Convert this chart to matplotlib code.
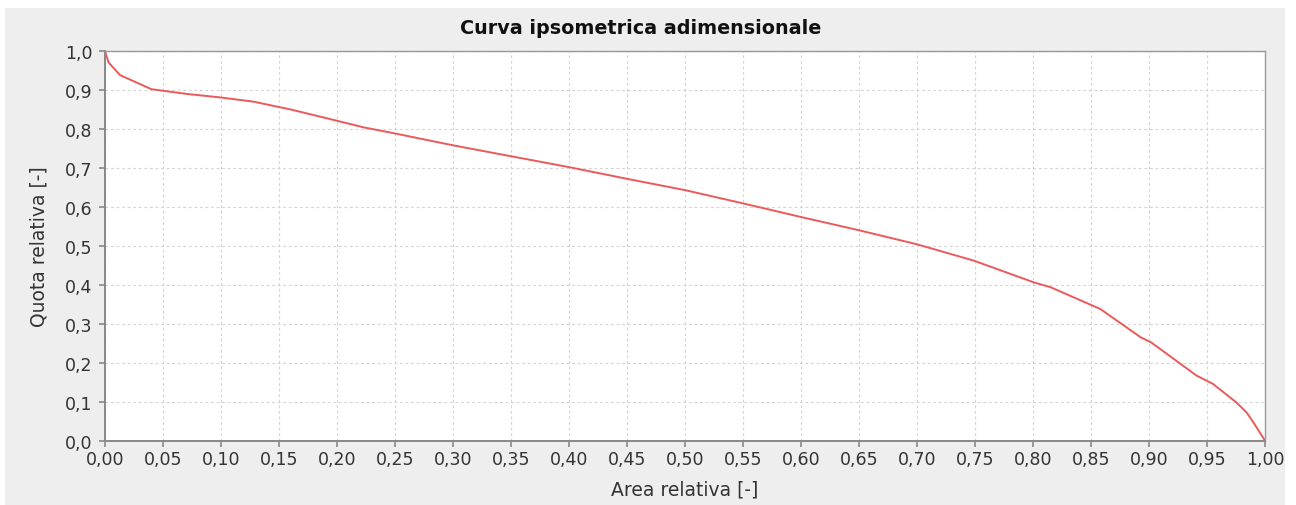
import numpy as np
import matplotlib.pyplot as plt
from matplotlib.patches import Rectangle
from matplotlib.ticker import MultipleLocator, FuncFormatter

# Curva ipsometrica
area_rel = [0.0, 0.003, 0.013, 0.040, 0.070, 0.099, 0.128, 0.160, 0.200, 0.223,
            0.249, 0.300, 0.332, 0.400, 0.450, 0.500, 0.550, 0.600, 0.650, 0.700,
            0.714, 0.749, 0.801, 0.815, 0.858, 0.893, 0.902, 0.941, 0.955, 0.975,
            0.984, 0.990, 1.0]
quota_rel = [1.0, 0.971, 0.938, 0.902, 0.890, 0.881, 0.870, 0.850, 0.821, 0.804,
             0.789, 0.758, 0.740, 0.702, 0.672, 0.643, 0.609, 0.574, 0.540, 0.504,
             0.492, 0.462, 0.406, 0.394, 0.338, 0.265, 0.252, 0.167, 0.146, 0.099,
             0.073, 0.047, 0.0]

W, H = 1296, 506
fig = plt.figure(figsize=(W / 100, H / 100), dpi=100)
fig.patch.set_facecolor('white')
fig.patches.append(Rectangle((5 / W, 0), 1280 / W, 497 / H, transform=fig.transFigure,
                             facecolor='#eeeeee', edgecolor='none', zorder=-10))

ax = fig.add_axes([105 / W, (H - 441.7) / H, 1160 / W, 389.7 / H])
ax.set_facecolor('white')
ax.plot(area_rel, quota_rel, color='#ea5a5a', linewidth=1.4)

ax.set_xlim(0, 1)
ax.set_ylim(0, 1)
ax.xaxis.set_major_locator(MultipleLocator(0.05))
ax.yaxis.set_major_locator(MultipleLocator(0.1))
ax.xaxis.set_major_formatter(FuncFormatter(lambda v, p: f'{v:.2f}'.replace('.', ',')))
ax.yaxis.set_major_formatter(FuncFormatter(lambda v, p: f'{v:.1f}'.replace('.', ',')))

ax.grid(True, color='#d4d4d4', linestyle=(0, (2.5, 2.5)), linewidth=0.8)
for s in ax.spines.values():
    s.set_color('#999999')
    s.set_linewidth(1.0)
ax.spines['left'].set_color('#888888')
ax.spines['bottom'].set_color('#888888')
ax.spines['left'].set_linewidth(1.4)
ax.spines['bottom'].set_linewidth(1.4)
ax.tick_params(direction='out', length=4, width=1.2, color='#888888',
               labelsize=12.5, labelcolor='#333333')
ax.tick_params(axis='y', pad=5)
ax.tick_params(axis='x', pad=3)

ax.set_xlabel('Area relativa [-]', fontsize=13.5, color='#333333', va='center')
ax.set_ylabel('Quota relativa [-]', fontsize=13.5, color='#333333', va='center')
ax.xaxis.set_label_coords(0.5, (441.7 - 490) / 389.7)
ax.yaxis.set_label_coords((39 - 105) / 1160, 0.5)
fig.text(641 / W, 1 - 29 / H, 'Curva ipsometrica adimensionale', ha='center', va='center',
         fontsize=13.8, fontweight='bold', color='#111111')

# bordo bianco a destra (taglia l'ultima etichetta come nell'originale)
fig.add_artist(Rectangle((1285 / W, 0), 11 / W, 1, transform=fig.transFigure,
                         facecolor='white', edgecolor='none', zorder=10))

fig.savefig('out.png', dpi=100)
